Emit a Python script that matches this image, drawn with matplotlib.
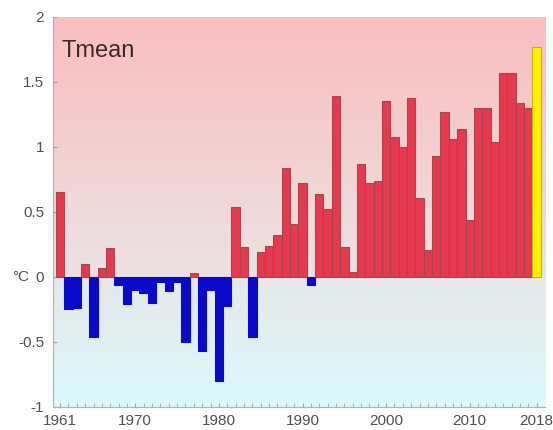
import numpy as np
import matplotlib
matplotlib.use("Agg")
import matplotlib.pyplot as plt

years = list(range(1961, 2019))
tmean = [0.65, -0.25, -0.24, 0.10, -0.46, 0.07, 0.22, -0.06, -0.21, -0.10,
         -0.12, -0.20, -0.04, -0.11, -0.04, -0.50, 0.03, -0.57, -0.10, -0.80,
         -0.22, 0.54, 0.23, -0.46, 0.19, 0.24, 0.32, 0.84, 0.41, 0.72,
         -0.06, 0.64, 0.52, 1.39, 0.23, 0.04, 0.87, 0.72, 0.74, 1.35,
         1.08, 1.00, 1.38, 0.61, 0.21, 0.93, 1.27, 1.06, 1.14, 0.44,
         1.30, 1.30, 1.04, 1.57, 1.57, 1.34, 1.30, 1.77]
xtick_years = [1961, 1970, 1980, 1990, 2000, 2010, 2018]
ytick_vals = [-1, -0.5, 0, 0.5, 1, 1.5, 2]
ytick_labels = ["-1", "-0.5", "0", "0.5", "1", "1.5", "2"]
title_text = "Tmean"
unit_text = "°C"

plt.rcParams['font.family'] = ['Liberation Sans', 'DejaVu Sans']

fig = plt.figure(figsize=(5.53, 4.30), dpi=100)
ax = fig.add_axes([0.095, 0.0535, 0.8905, 0.907])

xlo, xhi = 1960.1, 2019.0
ylo, yhi = -1.0, 2.0

# background gradient
yy = np.linspace(ylo, yhi, 600)
stops_y = [-1.0, -0.5, -0.001, 0.001, 0.5, 1.0, 2.0]
stops_c = np.array([
    [220, 249, 253],
    [225, 240, 242],
    [229, 232, 232],
    [236, 226, 226],
    [239, 217, 218],
    [243, 207, 208],
    [250, 190, 192],
]) / 255.0
grad = np.stack([np.interp(yy, stops_y, stops_c[:, k]) for k in range(3)], axis=-1)
grad = grad[:, None, :]
ax.imshow(grad, extent=[xlo, xhi, ylo, yhi], origin='lower', aspect='auto', zorder=0,
          interpolation='bilinear')

colors = []
edges = []
for y, v in zip(years, tmean):
    if y == 2018:
        colors.append('#fff200'); edges.append('#c9b300')
    elif v >= 0:
        colors.append('#e63950'); edges.append('#a8464e')
    else:
        colors.append('#0a0ac8'); edges.append('#0a0ac8')
ax.bar(years, tmean, width=1.0, color=colors, edgecolor=edges, linewidth=0.8, zorder=2)

ax.set_xlim(xlo, xhi)
ax.set_ylim(ylo, yhi)

for s in ['top', 'right']:
    ax.spines[s].set_visible(False)
for s in ['left', 'bottom']:
    ax.spines[s].set_color('#b0b0b0')
    ax.spines[s].set_linewidth(0.8)

ax.set_xticks(xtick_years)
ax.set_xticklabels([str(y) for y in xtick_years])
ax.set_xticks(years, minor=True)
ax.set_yticks(ytick_vals)
ax.set_yticklabels(ytick_labels)
ax.tick_params(axis='both', which='both', direction='in', colors='#a0a0a0',
               labelcolor='#505050', labelsize=11)
ax.tick_params(axis='x', which='major', length=3, pad=5)
ax.tick_params(axis='x', which='minor', length=3)
ax.tick_params(axis='y', which='major', length=3, pad=6)

ax.text(1961.2, 1.74, title_text, fontsize=17, color='#3a2a2a', va='center', ha='left', zorder=3)
ax.text(-0.048, 0.0, unit_text, transform=ax.get_yaxis_transform(), fontsize=11,
        color='#505050', va='center', ha='right')

fig.savefig("out.png", dpi=100)
